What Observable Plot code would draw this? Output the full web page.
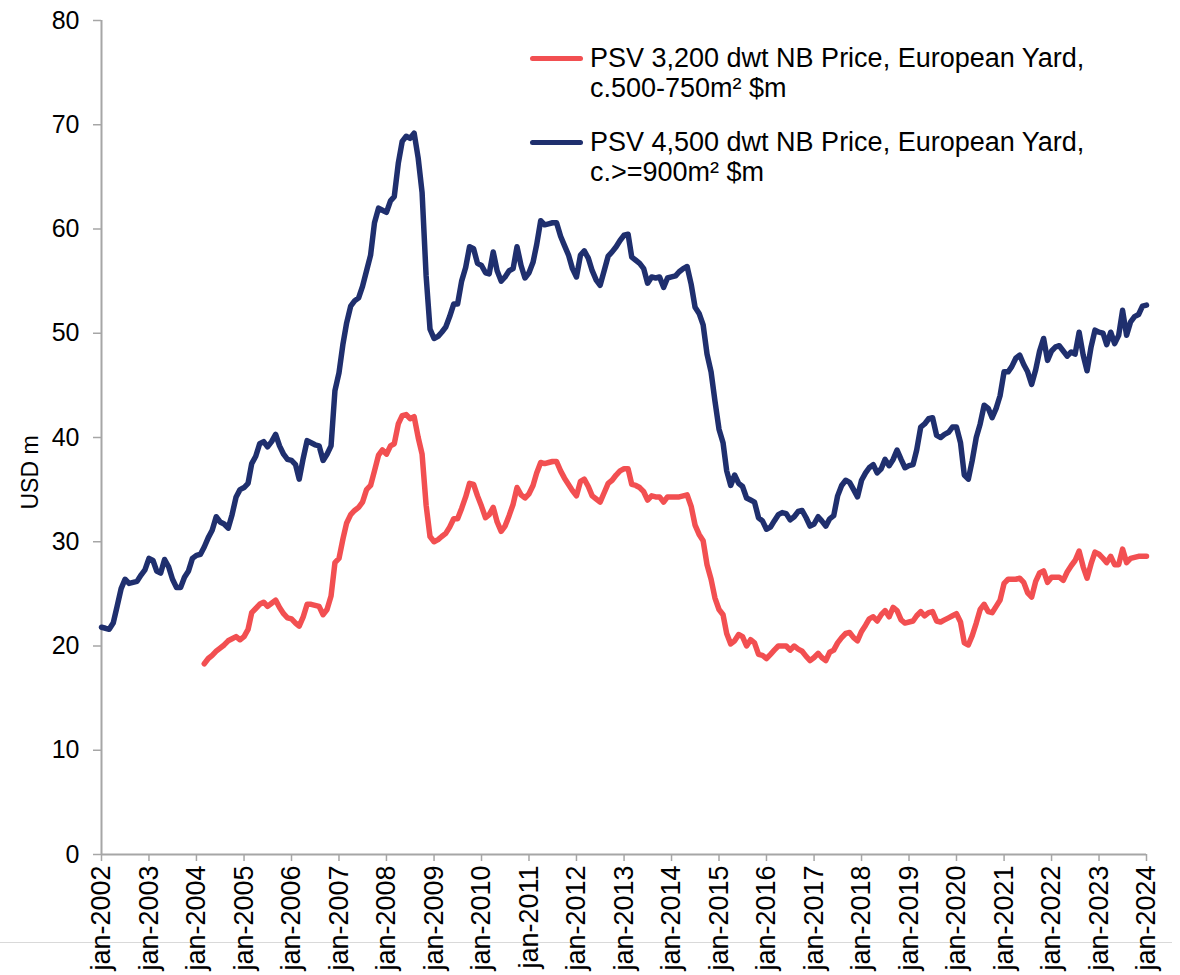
<!DOCTYPE html>
<html><head><meta charset="utf-8">
<script src="https://cdn.jsdelivr.net/npm/d3@7"></script>
<script src="https://cdn.jsdelivr.net/npm/@observablehq/plot@0.6"></script>
<style>
body{margin:0;background:#fff;font-family:"Liberation Sans",Arial,sans-serif;}
#wrap{position:relative;width:1180px;height:975px;overflow:hidden;}
#rule{position:absolute;left:0;top:942px;width:1172px;height:1px;background:#d9d9d9;}
#chart{position:absolute;left:0;top:0;}
#legend{position:absolute;left:530px;top:43px;font-size:27px;line-height:30px;color:#000;}
.entry{display:flex;align-items:flex-start;}
.entry + .entry{margin-top:24px;}
.sw{width:53px;height:5px;border-radius:3px;margin-top:12.5px;margin-right:7px;flex:none;}
.entry span{display:block;white-space:nowrap;}
</style></head><body>
<div id="wrap"><div id="rule"></div><div id="chart"></div><div id="legend"></div></div>
<script>
// Series labels and colours
const seriesNames = [
  ["PSV 3,200 dwt NB Price, European Yard,", "c.500-750m\u00b2 $m"],
  ["PSV 4,500 dwt NB Price, European Yard,", "c.>=900m\u00b2 $m"]
];
const seriesColors = ["#f24f51", "#1f2f6e"];

// Monthly values, PSV 4,500 dwt (starts Jan 2002)
const blueStart = [2002, 0];
const blueValues = [
  21.8, 21.7, 21.6, 22.2, 23.8, 25.5, 26.4, 26.0, 26.1, 26.2, 26.8, 27.3,
  28.4, 28.2, 27.2, 27.0, 28.3, 27.6, 26.4, 25.6, 25.6, 26.6, 27.2, 28.4,
  28.7, 28.8, 29.5, 30.4, 31.1, 32.4, 31.9, 31.7, 31.3, 32.6, 34.3, 35.0,
  35.2, 35.6, 37.5, 38.2, 39.4, 39.6, 39.1, 39.6, 40.3, 39.2, 38.4, 37.9,
  37.8, 37.4, 36.0, 38.0, 39.7, 39.5, 39.3, 39.2, 37.8, 38.4, 39.2, 44.5,
  46.2, 49.0, 51.0, 52.6, 53.1, 53.4, 54.5, 56.0, 57.5, 60.6, 62.0, 61.8,
  61.6, 62.7, 63.1, 66.3, 68.4, 68.9, 68.7, 69.2, 66.8, 63.5, 55.5, 50.4,
  49.5, 49.7, 50.1, 50.6, 51.6, 52.8, 52.8, 55.0, 56.3, 58.3, 58.1, 56.7,
  56.5, 55.8, 55.7, 57.8, 56.0, 55.0, 55.4, 56.0, 56.2, 58.3, 56.5, 55.3,
  55.8, 56.8, 58.5, 60.8, 60.4, 60.5, 60.6, 60.6, 59.3, 58.4, 57.5, 56.2,
  55.4, 57.5, 57.9, 57.2, 56.0, 55.1, 54.6, 56.0, 57.4, 57.8, 58.3, 58.9,
  59.4, 59.5, 57.3, 57.0, 56.7, 56.2, 54.8, 55.4, 55.3, 55.4, 54.4, 55.3,
  55.4, 55.5, 55.9, 56.2, 56.4, 54.7, 52.5, 51.9, 50.8, 48.0, 46.3, 43.5,
  40.8, 39.5, 36.8, 35.4, 36.4, 35.6, 35.3, 34.2, 34.0, 33.8, 32.3, 32.0,
  31.2, 31.4, 32.0, 32.6, 32.8, 32.7, 32.1, 32.4, 32.9, 33.0, 32.3, 31.5,
  31.7, 32.4, 32.0, 31.5, 32.2, 32.5, 34.4, 35.4, 35.9, 35.7, 35.0, 34.3,
  35.9, 36.6, 37.1, 37.4, 36.6, 37.0, 37.9, 37.3, 37.9, 38.8, 37.9, 37.1,
  37.3, 37.4, 38.8, 41.0, 41.3, 41.8, 41.9, 40.2, 40.0, 40.3, 40.5, 41.0,
  41.0, 39.5, 36.4, 36.0, 37.8, 40.0, 41.3, 43.1, 42.8, 41.9, 42.8, 44.0,
  46.3, 46.3, 46.8, 47.6, 47.9, 47.0, 46.3, 45.1, 46.5, 48.3, 49.5, 47.4,
  48.3, 48.7, 48.8, 48.3, 47.8, 48.2, 48.0, 50.1, 47.9, 46.4, 48.7, 50.3,
  50.1, 50.0, 48.9, 50.1, 49.0, 49.8, 52.2, 49.8, 51.1, 51.6, 51.8, 52.6,
  52.7
];

// Monthly values, PSV 3,200 dwt (starts Mar 2004)
const redStart = [2004, 2];
const redValues = [
  18.3, 18.8, 19.1, 19.5, 19.8, 20.1, 20.5, 20.7, 20.9, 20.6,
  20.9, 21.6, 23.2, 23.6, 24.0, 24.2, 23.8, 24.1, 24.4, 23.7, 23.1, 22.7,
  22.6, 22.2, 21.9, 22.8, 24.0, 24.0, 23.9, 23.8, 23.0, 23.5, 24.8, 28.0,
  28.4, 30.3, 31.8, 32.6, 33.0, 33.3, 33.8, 35.0, 35.4, 36.8, 38.3, 38.8,
  38.4, 39.2, 39.4, 41.3, 42.1, 42.2, 41.8, 42.0, 40.0, 38.4, 33.5, 30.5,
  30.0, 30.2, 30.5, 30.8, 31.4, 32.2, 32.2, 33.2, 34.3, 35.6, 35.5, 34.4,
  33.4, 32.3, 32.6, 33.3, 31.9, 31.0, 31.5, 32.5, 33.6, 35.2, 34.5, 34.2,
  34.6, 35.4, 36.6, 37.6, 37.5, 37.6, 37.7, 37.7, 36.8, 36.1, 35.5, 34.9,
  34.4, 35.8, 36.0, 35.3, 34.4, 34.1, 33.8, 34.7, 35.6, 35.9, 36.4, 36.8,
  37.0, 37.0, 35.5, 35.4, 35.2, 34.8, 34.0, 34.4, 34.3, 34.3, 33.8, 34.3,
  34.3, 34.3, 34.3, 34.4, 34.5, 33.4, 31.6, 30.7, 30.1, 27.8, 26.4, 24.6,
  23.5, 23.0, 21.2, 20.2, 20.5, 21.1, 20.9, 20.0, 20.6, 20.3, 19.2, 19.1,
  18.8, 19.2, 19.6, 20.0, 20.0, 20.0, 19.6, 20.0, 19.7, 19.5, 19.0, 18.6,
  18.9, 19.3, 18.9, 18.6, 19.4, 19.6, 20.3, 20.8, 21.2, 21.3, 20.8, 20.5,
  21.4, 22.0, 22.6, 22.8, 22.4, 23.0, 23.4, 22.8, 23.7, 23.4, 22.5, 22.2,
  22.3, 22.4, 22.9, 23.3, 22.9, 23.2, 23.3, 22.4, 22.3, 22.5, 22.7, 22.9,
  23.1, 22.3, 20.3, 20.1, 21.0, 22.2, 23.5, 24.0, 23.3, 23.2, 23.8, 24.4,
  26.0, 26.4, 26.4, 26.4, 26.5, 26.1, 25.1, 24.7, 26.2, 27.0, 27.2, 26.1,
  26.6, 26.6, 26.6, 26.3, 27.1, 27.7, 28.2, 29.1, 27.6, 26.5, 27.9, 29.0,
  28.8, 28.4, 28.0, 28.6, 27.8, 27.8, 29.3, 28.0, 28.4, 28.5, 28.6, 28.6,
  28.6
];

// Axis ticks
const tickYears = d3.range(2002, 2025);
const yTicks = [0, 10, 20, 30, 40, 50, 60, 70, 80];
const yLabel = "USD m";

const toData = (start, values) => values.map((v, i) => ({date: new Date(Date.UTC(start[0], start[1] + i, 1)), value: v}));
const blueData = toData(blueStart, blueValues);
const redData = toData(redStart, redValues);
const tickDates = tickYears.map(y => new Date(Date.UTC(y, 0, 1)));
const axisColor = "#a6a6a6";

const chart = Plot.plot({
  width: 1180,
  height: 975,
  marginLeft: 101,
  marginRight: 34,
  marginTop: 20,
  marginBottom: 121,
  style: {fontFamily: "'Liberation Sans', Arial, sans-serif", fontSize: "25px", color: "#000", background: "transparent", overflow: "visible"},
  x: {type: "utc", domain: [tickDates[0], tickDates[tickDates.length - 1]]},
  y: {domain: [0, 80]},
  marks: [
    Plot.axisY({ticks: yTicks, tickSize: 8, tickPadding: 14, stroke: axisColor, strokeWidth: 1.5, label: null, fontSize: 25}),
    Plot.axisX({ticks: tickDates, tickFormat: d => "jan-" + d.getUTCFullYear(), tickRotate: -90, tickSize: 7, tickPadding: 4, stroke: axisColor, strokeWidth: 1.5, label: null, fontSize: 27}),
    Plot.ruleY([0], {stroke: axisColor, strokeWidth: 2}),
    Plot.ruleX([tickDates[0]], {stroke: axisColor, strokeWidth: 2}),
    Plot.text([yLabel], {frameAnchor: "left", dx: -71, dy: 35, rotate: -90, textAnchor: "middle", fontSize: 23, fill: "#000"}),
    Plot.line(redData, {x: "date", y: "value", stroke: seriesColors[0], strokeWidth: 5.5, strokeLinejoin: "round", strokeLinecap: "round"}),
    Plot.line(blueData, {x: "date", y: "value", stroke: seriesColors[1], strokeWidth: 5.5, strokeLinejoin: "round", strokeLinecap: "round"})
  ]
});
document.getElementById("chart").appendChild(chart);

const legend = document.getElementById("legend");
seriesNames.forEach((lines, i) => {
  const e = document.createElement("div");
  e.className = "entry";
  const sw = document.createElement("div");
  sw.className = "sw";
  sw.style.background = seriesColors[i];
  const t = document.createElement("div");
  lines.forEach(l => { const s = document.createElement("span"); s.textContent = l; t.appendChild(s); });
  e.appendChild(sw); e.appendChild(t);
  legend.appendChild(e);
});
</script>
</body></html>
